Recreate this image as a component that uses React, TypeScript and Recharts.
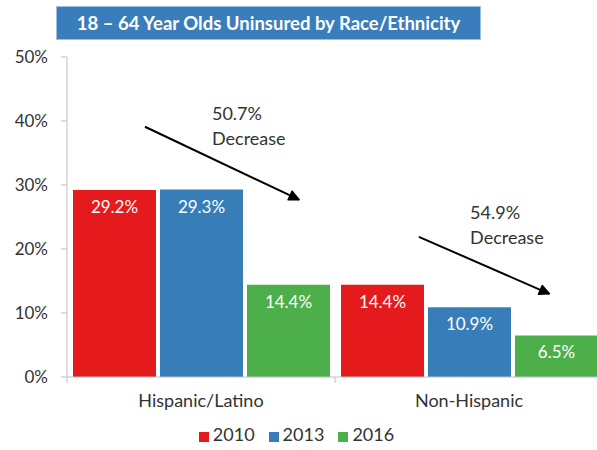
import React from "react";
import {
  BarChart,
  Bar,
  XAxis,
  YAxis,
  Legend,
  LabelList,
  ReferenceLine,
  ReferenceDot,
} from "recharts";

const categories = ["Hispanic/Latino", "Non-Hispanic"];
const values2010 = [29.2, 14.4];
const values2013 = [29.3, 10.9];
const values2016 = [14.4, 6.5];
const yTicks = [0, 10, 20, 30, 40, 50];
const seriesNames = ["2010", "2013", "2016"];
const seriesColors = ["#e41a1c", "#377eb8", "#4daf4a"];

const data = categories.map((c, i) => ({
  name: c,
  "2010": values2010[i],
  "2013": values2013[i],
  "2016": values2016[i],
}));

// arrows drawn on a helper numeric axis spanning the plot width (0..1)
const boundaryTicks = [0, 0.5, 1];
const arrows = [
  { x1: 0.1455, y1: 39.1, x2: 0.433, y2: 27.7 },
  { x1: 0.6565, y1: 21.9, x2: 0.9, y2: 13.0 },
];
const notes = [
  { x: 0.2705, y: 42.8, lines: ["50.7%", "Decrease"] },
  { x: 0.752, y: 27.4, lines: ["54.9%", "Decrease"] },
];

const FONT = "Lato, 'Open Sans', sans-serif";
const TEXT = "#333333";
const AXIS = "#bfbfbf";

const Arrow = (p: any) => {
  const { x1, y1, x2, y2 } = p;
  const a = Math.atan2(y2 - y1, x2 - x1);
  const L = 11;
  const s = 0.45;
  const ax = x2 - L * Math.cos(a - s);
  const ay = y2 - L * Math.sin(a - s);
  const bx = x2 - L * Math.cos(a + s);
  const by = y2 - L * Math.sin(a + s);
  return (
    <g>
      <line x1={x1} y1={y1} x2={x2} y2={y2} stroke="#000" strokeWidth={2} />
      <polygon points={`${x2},${y2} ${ax},${ay} ${bx},${by}`} fill="#000" stroke="#000" strokeWidth={1.5} strokeLinejoin="round" />
    </g>
  );
};

const noteShape = (lines: string[]) => (p: any) => (
  <text x={p.cx} y={p.cy} fill={TEXT} fontSize={18} fontFamily={FONT}>
    {lines.map((l, i) => (
      <tspan key={i} x={p.cx} dy={i === 0 ? "0.95em" : "1.4em"}>
        {l}
      </tspan>
    ))}
  </text>
);

export default function App() {
  return (
    <div style={{ position: "absolute", left: 0, top: 0, width: 597, height: 450, overflow: "hidden", background: "#fff", fontFamily: FONT }}>
      <div
        style={{
          position: "absolute",
          left: 56,
          top: 6,
          width: 425,
          height: 34,
          background: "#3a7dbd",
          border: "1px solid #9cc0e0",
          boxSizing: "border-box",
          color: "#fff",
          fontWeight: 700,
          fontSize: 18.5,
          lineHeight: "32px",
          textAlign: "center",
          fontFamily: FONT,
        }}
      >
        18 – 64 Year Olds Uninsured by Race/Ethnicity
      </div>
      <BarChart
        width={610}
        height={450}
        data={data}
        margin={{ top: 57, right: 7, left: 0, bottom: 11 }}
        barCategoryGap={6}
        barGap={4}
        style={{ fontFamily: FONT }}
      >
        <XAxis
          xAxisId="b"
          type="number"
          domain={[0, 1]}
          tick={false}
          axisLine={false}
          tickLine={false}
          height={0}
          allowDataOverflow
        />
        <XAxis
          dataKey="name"
          axisLine={{ stroke: AXIS }}
          tickLine={false}
          tickSize={0}
          tickMargin={17}
          height={40}
          tick={{ fill: TEXT, fontSize: 18 }}
        />
        <YAxis
          domain={[0, 50]}
          ticks={yTicks}
          tickFormatter={(v: number) => `${v}%`}
          axisLine={{ stroke: AXIS }}
          tickLine={{ stroke: AXIS }}
          tickSize={6}
          tickMargin={13}
          width={67}
          tick={{ fill: TEXT, fontSize: 17 }}
        />
        <Legend
          iconType="square"
          iconSize={10}
          wrapperStyle={{ bottom: 5, paddingLeft: 2 }}
          formatter={(v: string) => <span style={{ color: TEXT, fontSize: 18, marginRight: 4 }}>{v}</span>}
        />
        {seriesNames.map((s, i) => (
          <Bar key={s} dataKey={s} fill={seriesColors[i]} isAnimationActive={false}>
            <LabelList
              dataKey={s}
              position="insideTop"
              offset={11}
              fill="#fff"
              fontSize={17}
              formatter={(v: number) => `${v}%`}
            />
          </Bar>
        ))}
        {boundaryTicks.map((t) => (
          <ReferenceLine
            key={"t" + t}
            xAxisId="b"
            segment={[
              { x: t, y: 0 },
              { x: t, y: -0.9 },
            ]}
            stroke={AXIS}
            ifOverflow="visible"
          />
        ))}
        {arrows.map((a, i) => (
          <ReferenceLine
            key={"a" + i}
            xAxisId="b"
            segment={[
              { x: a.x1, y: a.y1 },
              { x: a.x2, y: a.y2 },
            ]}
            shape={Arrow}
            ifOverflow="visible"
          />
        ))}
        {notes.map((n, i) => (
          <ReferenceDot key={"n" + i} xAxisId="b" x={n.x} y={n.y} r={0} shape={noteShape(n.lines)} ifOverflow="visible" />
        ))}
      </BarChart>
    </div>
  );
}
